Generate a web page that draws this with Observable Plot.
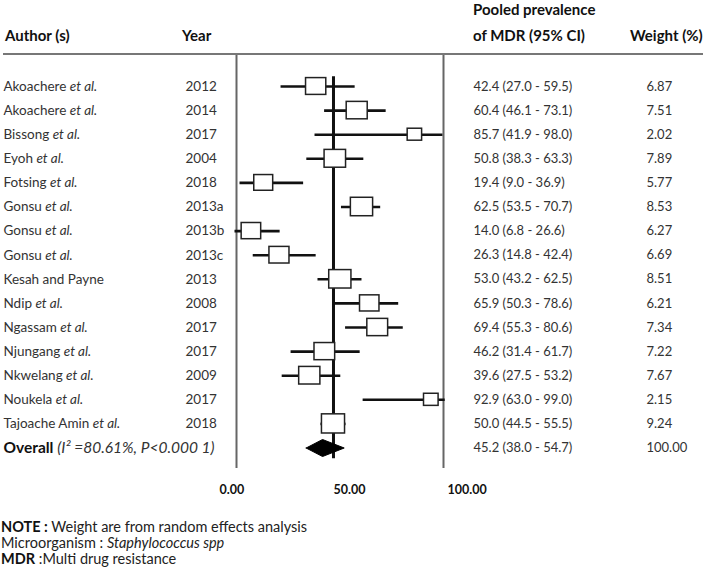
<!DOCTYPE html>
<html>
<head>
<meta charset="utf-8">
<script src="https://cdn.jsdelivr.net/npm/d3@7"></script>
<script src="https://cdn.jsdelivr.net/npm/@observablehq/plot@0.6"></script>
<style>
  body { margin: 0; background: #fff; font-family: Lato, "DejaVu Sans", sans-serif; color: #111; }
  #wrap { position: relative; width: 709px; }
  #header { position: relative; height: 53px; margin-left: 3px; width: 700px; border-bottom: 2px solid #777; }
  #header span { position: absolute; font-weight: bold; font-size: 15px; line-height: 18px; white-space: nowrap; color: #111; }
  #notes { margin-top: 14px; font-size: 14.5px; line-height: 16px; color: #222; padding-left: 1px; }
  #notes b { color: #111; }
</style>
</head>
<body>
<div id="wrap">
  <div id="header">
    <span style="left:470px; top:0px;">Pooled prevalence</span>
    <span style="left:2px; top:26px;">Author (s)</span>
    <span style="left:179px; top:26px;">Year</span>
    <span style="left:470px; top:26px;">of MDR (95% CI)</span>
    <span style="left:627px; top:26px;">Weight (%)</span>
  </div>
  <div id="chart"></div>
  <div id="notes">
    <div><b>NOTE :</b> Weight are from random effects analysis</div>
    <div>Microorganism : <i>Staphylococcus spp</i></div>
    <div><b>MDR</b> :Multi drug resistance</div>
  </div>
</div>
<script>
// ---- data ----
const authors = ["Akoachere et al.", "Akoachere et al.", "Bissong et al.", "Eyoh et al.", "Fotsing et al.",
  "Gonsu et al.", "Gonsu et al.", "Gonsu et al.", "Kesah and Payne", "Ndip et al.", "Ngassam et al.",
  "Njungang et al.", "Nkwelang et al.", "Noukela et al.", "Tajoache Amin et al."];
const years = ["2012", "2014", "2017", "2004", "2018", "2013a", "2013b", "2013c", "2013", "2008", "2017", "2017", "2009", "2017", "2018"];
const estimates = [42.4, 60.4, 85.7, 50.8, 19.4, 62.5, 14.0, 26.3, 53.0, 65.9, 69.4, 46.2, 39.6, 92.9, 50.0];
const lowerCI = [27.0, 46.1, 41.9, 38.3, 9.0, 53.5, 6.8, 14.8, 43.2, 50.3, 55.3, 31.4, 27.5, 63.0, 44.5];
const upperCI = [59.5, 73.1, 98.0, 63.3, 36.9, 70.7, 26.6, 42.4, 62.5, 78.6, 80.6, 61.7, 53.2, 99.0, 55.5];
const weights = [6.87, 7.51, 2.02, 7.89, 5.77, 8.53, 6.27, 6.69, 8.51, 6.21, 7.34, 7.22, 7.67, 2.15, 9.24];
const overallLabel = "Overall (I² =80.61%, P<0.000 1)";
const overallEstimate = 45.2;
const overallLower = 38.0;
const overallUpper = 54.7;
const overallWeight = 100.00;
const referenceValue = 50;
const tickValues = [0, 50, 100];

// ---- layout ----
const W = 709, H = 450;
const mLeft = 236, mRight = 266, mTop = 0, mBottom = 37;
const xDomain = [7.46, 98.25];
const yDomain = [-1.286, 15.85];
const pxPerX = (W - mLeft - mRight) / (xDomain[1] - xDomain[0]);
const pxPerRow = (H - mTop - mBottom) / (yDomain[1] - yDomain[0]);

const rows = authors.map((a, i) => {
  const bw = 12 + 1.2 * weights[i];     // box width in px (size encodes weight)
  const bh = 0.83 * bw;
  return {
    i, author: a, year: years[i], est: estimates[i], lo: lowerCI[i], hi: upperCI[i], w: weights[i],
    x1: estimates[i] - bw / 2 / pxPerX, x2: estimates[i] + bw / 2 / pxPerX,
    y1: i - bh / 2 / pxPerRow, y2: i + bh / 2 / pxPerRow,
    ciText: `${estimates[i].toFixed(1)} (${lowerCI[i].toFixed(1)} - ${upperCI[i].toFixed(1)})`,
    wText: weights[i].toFixed(2)
  };
});
const oRow = authors.length;
const dh = 8.5 / pxPerRow;
const diamond = [
  {x: overallLower, y: oRow}, {x: overallEstimate, y: oRow - dh},
  {x: overallUpper, y: oRow}, {x: overallEstimate, y: oRow + dh}, {x: overallLower, y: oRow}
];
const overallRow = [{
  i: oRow, author: overallLabel,
  ciText: `${overallEstimate.toFixed(1)} (${overallLower.toFixed(1)} - ${overallUpper.toFixed(1)})`,
  wText: overallWeight.toFixed(2)
}];
const textRows = rows.concat(overallRow);

const svg = Plot.plot({
  width: W, height: H,
  marginLeft: mLeft, marginRight: mRight, marginTop: mTop, marginBottom: mBottom,
  style: {fontFamily: "Lato, 'DejaVu Sans', sans-serif", color: "#111", background: "white", overflow: "visible"},
  x: {domain: xDomain},
  y: {domain: yDomain, reverse: true, axis: null},
  marks: [
    Plot.ruleX(xDomain, {stroke: "#666", strokeWidth: 2}),
    Plot.ruleX([referenceValue], {y1: -0.4, y2: 15.45, stroke: "#111", strokeWidth: 3}),
    Plot.ruleY(rows, {y: "i", x1: "lo", x2: "hi", stroke: "#111", strokeWidth: 2.6}),
    Plot.rect(rows, {x1: "x1", x2: "x2", y1: "y1", y2: "y2", fill: "white", stroke: "#222", strokeWidth: 1.5}),
    Plot.line(diamond, {x: "x", y: "y", fill: "#000", stroke: "#000", strokeWidth: 1}),
    Plot.text(textRows, {y: "i", text: "author", frameAnchor: "left", textAnchor: "start", dx: -233, fontSize: 13.5, fill: "#333"}),
    Plot.text(rows, {y: "i", text: "year", frameAnchor: "left", textAnchor: "start", dx: -51, fontSize: 13.5, fill: "#333"}),
    Plot.text(textRows, {y: "i", text: "ciText", frameAnchor: "right", textAnchor: "start", dx: 30, fontSize: 13, fill: "#333"}),
    Plot.text(textRows, {y: "i", text: "wText", frameAnchor: "right", textAnchor: "start", dx: 203, fontSize: 13, fill: "#333"}),
    Plot.axisX({ticks: tickValues, tickSize: 0, tickPadding: 17, tickFormat: d3.format(".2f"),
      textAnchor: "start", fontWeight: "bold", fontSize: 12.5, label: null})
  ]
});

// style parts of labels (italic "et al.", bold "Overall")
svg.querySelectorAll("text").forEach(el => {
  const t = el.textContent;
  const ns = "http://www.w3.org/2000/svg";
  if (t.endsWith("et al.")) {
    el.textContent = "";
    const a = document.createElementNS(ns, "tspan"); a.textContent = t.slice(0, -6);
    const b = document.createElementNS(ns, "tspan"); b.textContent = "et al."; b.setAttribute("font-style", "italic");
    el.append(a, b);
  } else if (t.startsWith("Overall ")) {
    el.textContent = "";
    const a = document.createElementNS(ns, "tspan"); a.textContent = "Overall "; a.setAttribute("font-weight", "bold"); a.setAttribute("fill", "#111");
    const b = document.createElementNS(ns, "tspan"); b.textContent = t.slice(8); b.setAttribute("font-style", "italic");
    el.append(a, b);
    el.setAttribute("font-size", "15.5");
  }
});
document.getElementById("chart").append(svg);
</script>
</body>
</html>
